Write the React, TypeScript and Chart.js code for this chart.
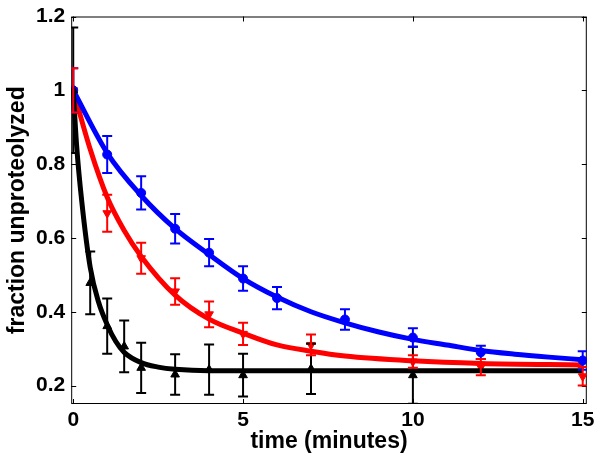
import { useEffect, useRef } from "react";
import { Chart, registerables } from "chart.js";
Chart.register(...registerables);

// measured data (time in minutes, fraction unproteolyzed, error half-width)
const blueT = [0, 1, 2, 3, 4, 5, 6, 8, 10, 12, 15];
const blueY = [1.0, 0.826, 0.722, 0.625, 0.56, 0.49, 0.437, 0.379, 0.33, 0.29, 0.268];
const blueErr = [0.06, 0.05, 0.045, 0.04, 0.037, 0.033, 0.03, 0.028, 0.025, 0.018, 0.025];

const redT = [0, 1, 2, 3, 4, 5, 7, 10, 12, 15];
const redY = [1.0, 0.667, 0.545, 0.455, 0.393, 0.34, 0.31, 0.265, 0.25, 0.225];
const redErr = [0.06, 0.05, 0.042, 0.036, 0.035, 0.03, 0.028, 0.017, 0.022, 0.025];

const blackT = [0, 0.5, 1, 1.5, 2, 3, 4, 5, 7, 10];
const blackY = [1.0, 0.478, 0.361, 0.306, 0.248, 0.23, 0.243, 0.228, 0.245, 0.228];
const blackErr = [0.17, 0.085, 0.075, 0.07, 0.068, 0.055, 0.068, 0.058, 0.068, 0.077];

// fitted curves
const blueFitT = [0, 1, 2, 3, 4, 5, 6, 7, 8, 9, 10, 11, 12, 13, 14, 15];
const blueFitY = [1.0, 0.83, 0.715, 0.625, 0.555, 0.49, 0.44, 0.4, 0.37, 0.345, 0.325, 0.31, 0.295, 0.285, 0.277, 0.27];
const redFitT = [0, 0.5, 1, 1.5, 2, 3, 4, 5, 6, 7, 8, 10, 12, 15];
const redFitY = [1.0, 0.84, 0.71, 0.62, 0.55, 0.445, 0.38, 0.342, 0.31, 0.293, 0.28, 0.267, 0.26, 0.256];
const blackFitT = [0, 0.1, 0.25, 0.5, 0.75, 1, 1.25, 1.5, 2, 2.5, 3, 4, 5, 15];
const blackFitY = [1.0, 0.85, 0.7, 0.52, 0.425, 0.365, 0.32, 0.29, 0.262, 0.25, 0.244, 0.24, 0.24, 0.24];

const xTicks = [0, 5, 10, 15];
const yTicks = [0.2, 0.4, 0.6, 0.8, 1, 1.2];

const BLUE = "#0000ff";
const RED = "#ff0000";
const BLACK = "#000000";
const FONT = "'Liberation Sans', Arial, sans-serif";

const pts = (xs: number[], ys: number[]) => xs.map((x, i) => ({ x, y: ys[i] }));

const boxPlugin = {
  id: "box",
  beforeDatasetsDraw(chart: any) {
    const { ctx, chartArea: a, scales } = chart;
    ctx.save();
    ctx.strokeStyle = "#000";
    ctx.lineWidth = 1;
    ctx.strokeRect(a.left + 0.5, a.top + 0.5, a.right - a.left - 1, a.bottom - a.top - 1);
    const L = 5;
    ctx.beginPath();
    xTicks.forEach((v) => {
      const px = Math.round(scales.x.getPixelForValue(v)) + 0.5;
      ctx.moveTo(px, a.bottom);
      ctx.lineTo(px, a.bottom - L);
      ctx.moveTo(px, a.top);
      ctx.lineTo(px, a.top + L);
    });
    yTicks.forEach((v) => {
      const py = Math.round(scales.y.getPixelForValue(v)) + 0.5;
      ctx.moveTo(a.left, py);
      ctx.lineTo(a.left + L, py);
      ctx.moveTo(a.right, py);
      ctx.lineTo(a.right - L, py);
    });
    ctx.stroke();
    ctx.restore();
  },
};

const errorBarPlugin = {
  id: "errbars",
  afterDatasetsDraw(chart: any) {
    const { ctx, chartArea: a, scales } = chart;
    ctx.save();
    ctx.beginPath();
    ctx.rect(a.left, a.top, a.right - a.left, a.bottom - a.top);
    ctx.clip();
    chart.data.datasets.forEach((ds: any) => {
      if (!ds.errors) return;
      ctx.strokeStyle = ds.borderColor;
      ctx.lineWidth = 2;
      ds.data.forEach((p: any, i: number) => {
        const e = ds.errors[i];
        const px = scales.x.getPixelForValue(p.x);
        const y1 = scales.y.getPixelForValue(p.y + e);
        const y2 = scales.y.getPixelForValue(p.y - e);
        ctx.beginPath();
        ctx.moveTo(px, y1);
        ctx.lineTo(px, y2);
        ctx.moveTo(px - 5, y1);
        ctx.lineTo(px + 5, y1);
        ctx.moveTo(px - 5, y2);
        ctx.lineTo(px + 5, y2);
        ctx.stroke();
      });
    });
    ctx.restore();
  },
};

export default function App() {
  const ref = useRef<HTMLCanvasElement>(null);
  useEffect(() => {
    if (!ref.current) return;
    const fitLine = (xs: number[], ys: number[], color: string) => ({
      type: "line",
      data: pts(xs, ys),
      borderColor: color,
      backgroundColor: color,
      borderWidth: 5,
      pointRadius: 0,
      showLine: true,
      cubicInterpolationMode: "monotone",
      fill: false,
    });
    const marks = (xs: number[], ys: number[], errs: number[], color: string, style: string, rot: number) => ({
      type: "scatter",
      data: pts(xs, ys),
      errors: errs,
      borderColor: color,
      backgroundColor: color,
      pointStyle: style,
      rotation: rot,
      pointRadius: style === "circle" ? 4.5 : 5,
      borderWidth: 1,
      showLine: false,
    });
    const chart = new Chart(ref.current, {
      type: "scatter",
      data: {
        datasets: [
          fitLine(blackFitT, blackFitY, BLACK),
          marks(blackT, blackY, blackErr, BLACK, "triangle", 0),
          fitLine(blueFitT, blueFitY, BLUE),
          marks(blueT, blueY, blueErr, BLUE, "circle", 0),
          fitLine(redFitT, redFitY, RED),
          marks(redT, redY, redErr, RED, "triangle", 180),
        ] as any,
      },
      options: {
        animation: false,
        responsive: false,
        layout: { padding: { top: 16, right: 13, left: 0, bottom: 0 } },
        plugins: { legend: { display: false }, tooltip: { enabled: false } },
        scales: {
          x: {
            type: "linear",
            min: -0.06,
            max: 15.12,
            afterBuildTicks: (s: any) => {
              s.ticks = xTicks.map((v) => ({ value: v }));
            },
            grid: { display: false, drawTicks: false },
            border: { display: false },
            ticks: {
              color: "#000",
              font: { family: FONT, size: 21, weight: "bold", lineHeight: 1 },
              padding: 5.5,
              maxRotation: 0,
              autoSkip: false,
              callback: (v: any) => String(v),
            },
            title: {
              display: true,
              text: "time (minutes)",
              color: "#000",
              font: { family: FONT, size: 23, weight: "bold", lineHeight: 1 },
              padding: { top: -6, bottom: 8 },
            },
          },
          y: {
            type: "linear",
            min: 0.15,
            max: 1.2,
            afterBuildTicks: (s: any) => {
              s.ticks = yTicks.map((v) => ({ value: v }));
            },
            grid: { display: false, drawTicks: false },
            border: { display: false },
            ticks: {
              color: "#000",
              font: { family: FONT, size: 21, weight: "bold", lineHeight: 1 },
              padding: 6,
              autoSkip: false,
              callback: (v: any) => String(v),
            },
            title: {
              display: true,
              text: "fraction unproteolyzed",
              color: "#000",
              font: { family: FONT, size: 23, weight: "bold", lineHeight: 1 },
              padding: { top: 6, bottom: 1 },
            },
          },
        },
      } as any,
      plugins: [boxPlugin, errorBarPlugin],
    });
    return () => chart.destroy();
  }, []);
  return (
    <canvas
      ref={ref}
      width={600}
      height={461}
      style={{ position: "absolute", left: 0, top: 0, display: "block", background: "#fff" }}
    />
  );
}
